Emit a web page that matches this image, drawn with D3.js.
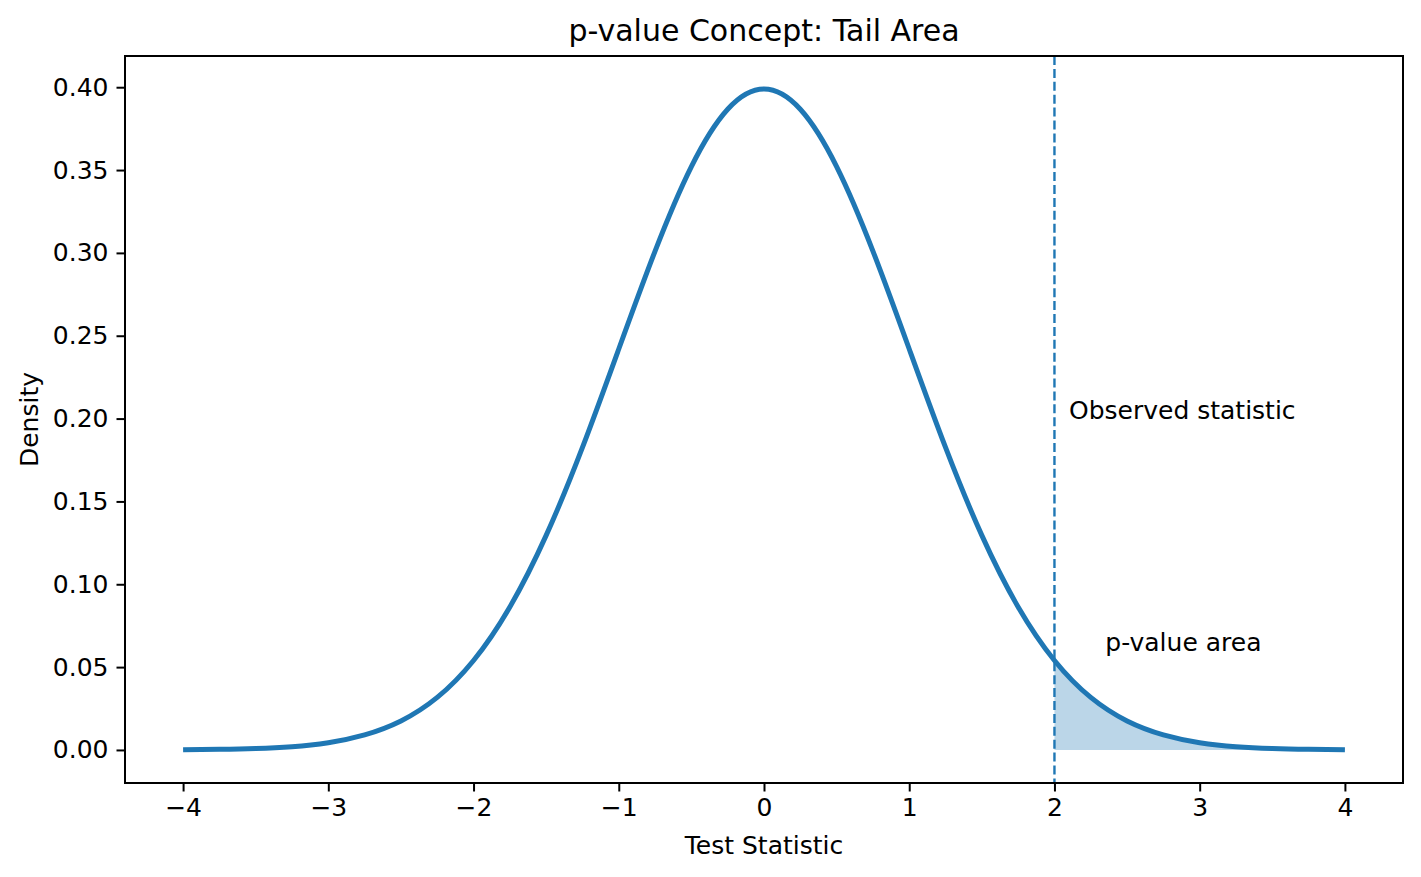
<!DOCTYPE html>
<html>
<head>
<meta charset="utf-8">
<script src="https://cdn.jsdelivr.net/npm/d3@7"></script>
<style>
    body { margin: 0; background: #fff; }
    svg { display: block; font-family: "DejaVu Sans", sans-serif; }
    .axis text { font-family: "DejaVu Sans", sans-serif; font-size: 25px; fill: #000; }
</style>
</head>
<body>
<div id="chart"></div>
<script>
// test statistic grid and density
const xs = [-4, -3.75, -3.5, -3.25, -3, -2.75, -2.5, -2.25, -2, -1.75, -1.5, -1.25, -1, -0.75, -0.5, -0.25,
            0, 0.25, 0.5, 0.75, 1, 1.25, 1.5, 1.75, 2, 2.25, 2.5, 2.75, 3, 3.25, 3.5, 3.75, 4]
const density = [0.0001, 0.0004, 0.0009, 0.0020, 0.0044, 0.0091, 0.0175, 0.0317, 0.0540, 0.0863, 0.1295, 0.1826,
                 0.2420, 0.3011, 0.3521, 0.3867, 0.3989, 0.3867, 0.3521, 0.3011, 0.2420, 0.1826, 0.1295, 0.0863,
                 0.0540, 0.0317, 0.0175, 0.0091, 0.0044, 0.0020, 0.0009, 0.0004, 0.0001]
const observed = 2
const xTicks = [-4, -3, -2, -1, 0, 1, 2, 3, 4]
const yTicks = [0, 0.05, 0.10, 0.15, 0.20, 0.25, 0.30, 0.35, 0.40]

const width = 1421, height = 877
const margin = {left: 125, right: 18, top: 56, bottom: 94}
const w = width - margin.left - margin.right
const h = height - margin.top - margin.bottom
const blue = "#1f77b4"

const svg = d3.select("#chart").append("svg")
    .attr("width", width)
    .attr("height", height)
const g = svg.append("g")
    .attr("transform", `translate(${margin.left},${margin.top})`)

const xScale = d3.scaleLinear().domain([-4.4, 4.4]).range([0, w])
const yScale = d3.scaleLinear().domain([-0.01995, 0.41884]).range([h, 0])

const points = xs.map((x, i) => ({x: x, y: density[i]}))
const tail = points.filter(d => d.x >= observed)

// shaded tail
const area = d3.area()
    .x(d => xScale(d.x))
    .y0(yScale(0))
    .y1(d => yScale(d.y))
    .curve(d3.curveNatural)
g.append("path")
    .attr("d", area(tail))
    .attr("fill", blue)
    .attr("fill-opacity", 0.3)

const line = d3.line()
    .x(d => xScale(d.x))
    .y(d => yScale(d.y))
    .curve(d3.curveNatural)
g.append("path")
    .attr("d", line(points))
    .attr("fill", "none")
    .attr("stroke", blue)
    .attr("stroke-width", 5)

// observed statistic marker
g.append("line")
    .attr("x1", xScale(observed)).attr("x2", xScale(observed))
    .attr("y1", 0).attr("y2", h)
    .attr("stroke", blue)
    .attr("stroke-width", 2.4)
    .attr("stroke-dasharray", "9,3.9")

g.append("text")
    .attr("x", xScale(2.1))
    .attr("y", yScale(0.2))
    .style("font-size", "25px")
    .text("Observed statistic")

g.append("text")
    .attr("x", xScale(2.35))
    .attr("y", yScale(0.06))
    .style("font-size", "25px")
    .text("p-value area")

// axes
const xAxis = g.append("g")
    .attr("class", "axis")
    .attr("transform", `translate(0,${h})`)
    .call(d3.axisBottom(xScale).tickValues(xTicks).tickSize(8.5).tickPadding(7)
        .tickFormat(d => d < 0 ? "\u2212" + Math.abs(d) : d))
const yAxis = g.append("g")
    .attr("class", "axis")
    .call(d3.axisLeft(yScale).tickValues(yTicks).tickSize(8.5).tickPadding(8)
        .tickFormat(d3.format(".2f")))

;[xAxis, yAxis].forEach(a => {
    a.attr("font-family", null).attr("font-size", null)
    a.select(".domain").remove()
    a.selectAll(".tick line").attr("stroke", "#000").attr("stroke-width", 2)
})

g.append("rect")
    .attr("width", w)
    .attr("height", h)
    .attr("fill", "none")
    .attr("stroke", "#000")
    .attr("stroke-width", 2)

svg.append("text")
    .attr("x", margin.left + w / 2)
    .attr("y", 41)
    .attr("text-anchor", "middle")
    .style("font-size", "30px")
    .text("p-value Concept: Tail Area")

svg.append("text")
    .attr("x", margin.left + w / 2)
    .attr("y", 854)
    .attr("text-anchor", "middle")
    .style("font-size", "25px")
    .text("Test Statistic")

svg.append("text")
    .attr("transform", `translate(38,${margin.top + h / 2}) rotate(-90)`)
    .attr("text-anchor", "middle")
    .style("font-size", "25px")
    .text("Density")
</script>
</body>
</html>
